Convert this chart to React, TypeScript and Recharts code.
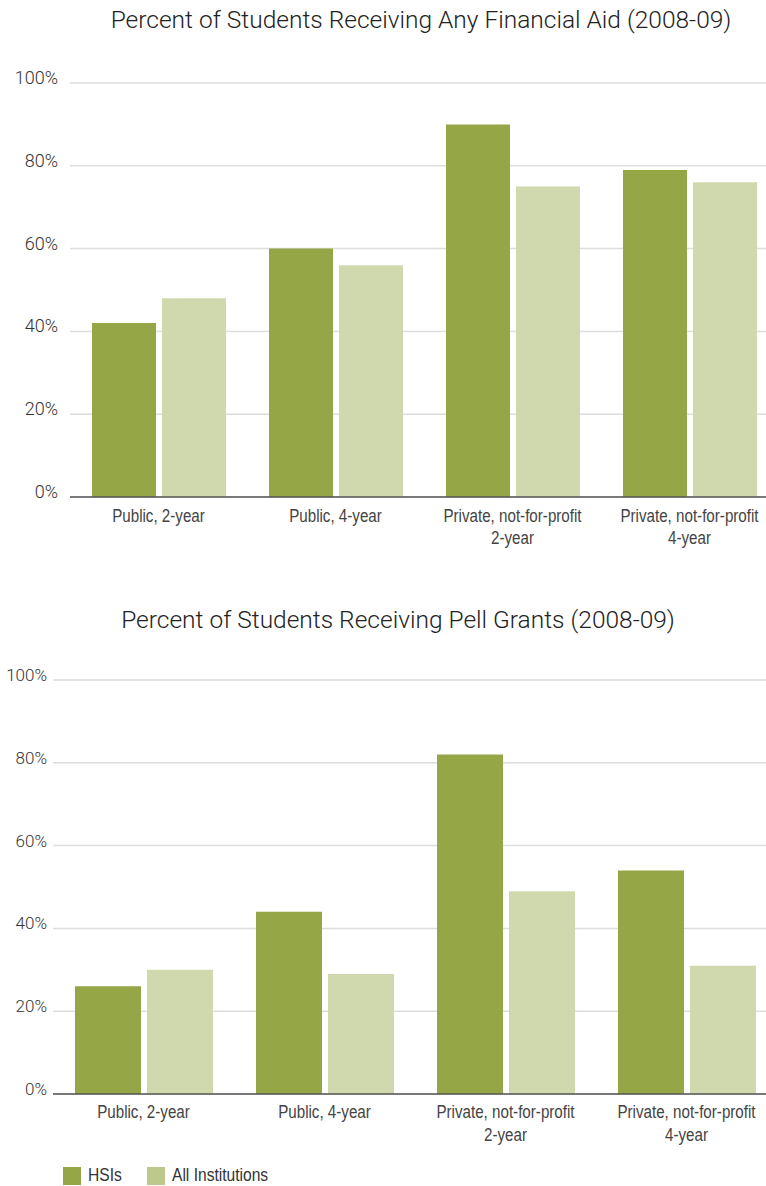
import React from "react";
import { BarChart, Bar, XAxis, YAxis, CartesianGrid } from "recharts";

const categories = [
  "Public, 2-year",
  "Public, 4-year",
  "Private, not-for-profit\n2-year",
  "Private, not-for-profit\n4-year",
];
const anyAidHSI = [42, 60, 90, 79];
const anyAidAll = [48, 56, 75, 76];
const pellHSI = [26, 44, 82, 54];
const pellAll = [30, 29, 49, 31];
const yTicks = [0, 20, 40, 60, 80, 100];

const HSI_COLOR = "#95A646";
const ALL_COLOR = "#D0D9AE";
const ALL_SWATCH = "#BDC98C";
const LIGHT = "Roboto, 'Liberation Sans', sans-serif";
const NARROW = "'Liberation Sans', Arial, sans-serif";
const SQUEEZE = 0.82; // poor man's condensed face

function buildRows(hsi: number[], all: number[]) {
  return categories.map((c, i) => ({ name: c, hsi: hsi[i], all: all[i] }));
}

function YTick({ x, y, payload, fontSize }: any) {
  return (
    <text x={x} y={y + 1} textAnchor="end" fill="#333" fontFamily={LIGHT} fontWeight={300} fontSize={fontSize}>
      {payload.value}%
    </text>
  );
}

function CatTick({ x, y, payload, first, second }: any) {
  const lines = String(payload.value).split("\n");
  return (
    <g transform={`translate(${x},${y}) scale(${SQUEEZE},1)`}>
      <text x={0} y={0} textAnchor="middle" fill="#444" fontFamily={NARROW} fontSize={18.5}>
        {lines.map((l, i) => (
          <tspan key={i} x={0} dy={i === 0 ? first : second}>{l}</tspan>
        ))}
      </text>
    </g>
  );
}

function Panel({ rows, yWidth, tickMargin, barSize, yFont, first, second, right }: any) {
  return (
    <BarChart
      width={766}
      height={560}
      data={rows}
      margin={{ top: 83, right, left: 0, bottom: 13 }}
      barGap={6}
    >
      <CartesianGrid vertical={false} stroke="#DDDDDD" strokeWidth={1.5} />
      <YAxis
        type="number"
        domain={[0, 100]}
        ticks={yTicks}
        width={yWidth}
        axisLine={false}
        tickLine={false}
        tickMargin={tickMargin}
        tick={<YTick fontSize={yFont} />}
      />
      <XAxis
        dataKey="name"
        height={50}
        axisLine={{ stroke: "#555", strokeWidth: 1.5 }}
        tickLine={false}
        interval={0}
        tick={<CatTick first={first} second={second} />}
      />
      <Bar dataKey="hsi" fill={HSI_COLOR} barSize={barSize} isAnimationActive={false} />
      <Bar dataKey="all" fill={ALL_COLOR} barSize={barSize} isAnimationActive={false} />
    </BarChart>
  );
}

const titleStyle: React.CSSProperties = {
  position: "absolute",
  fontFamily: LIGHT,
  fontWeight: 300,
  fontSize: 24.5,
  color: "#222",
  whiteSpace: "nowrap",
  transform: "translateX(-50%)",
  lineHeight: "28px",
};

const legendText: React.CSSProperties = {
  position: "absolute",
  top: 0,
  fontFamily: NARROW,
  fontSize: 19,
  lineHeight: "18px",
  color: "#333",
  whiteSpace: "nowrap",
  transform: `scaleX(${SQUEEZE})`,
  transformOrigin: "left center",
};

export default function App() {
  return (
    <div style={{ position: "absolute", left: 0, top: 0, width: 766, height: 1186, background: "#fff", overflow: "hidden" }}>
      <div style={{ ...titleStyle, left: 421, top: 6 }}>
        Percent of Students Receiving Any Financial Aid (2008-09)
      </div>
      <div style={{ position: "absolute", left: 0, top: 0 }}>
        <Panel rows={buildRows(anyAidHSI, anyAidAll)} yWidth={70} tickMargin={6} barSize={64} yFont={18} first={17} second={22} right={-12} />
      </div>

      <div style={{ ...titleStyle, left: 398, top: 606 }}>
        Percent of Students Receiving Pell Grants (2008-09)
      </div>
      <div style={{ position: "absolute", left: 0, top: 597 }}>
        <Panel rows={buildRows(pellHSI, pellAll)} yWidth={53} tickMargin={0} barSize={66} yFont={17} first={16} second={23} right={-11} />
      </div>

      {/* legend */}
      <div style={{ position: "absolute", left: 0, top: 1166, width: 766, height: 20 }}>
        <span style={{ position: "absolute", left: 63, top: 1, width: 18, height: 18, background: HSI_COLOR }} />
        <span style={{ ...legendText, left: 88 }}>HSIs</span>
        <span style={{ position: "absolute", left: 147, top: 1, width: 18, height: 18, background: ALL_SWATCH }} />
        <span style={{ ...legendText, left: 172 }}>All Institutions</span>
      </div>
    </div>
  );
}
